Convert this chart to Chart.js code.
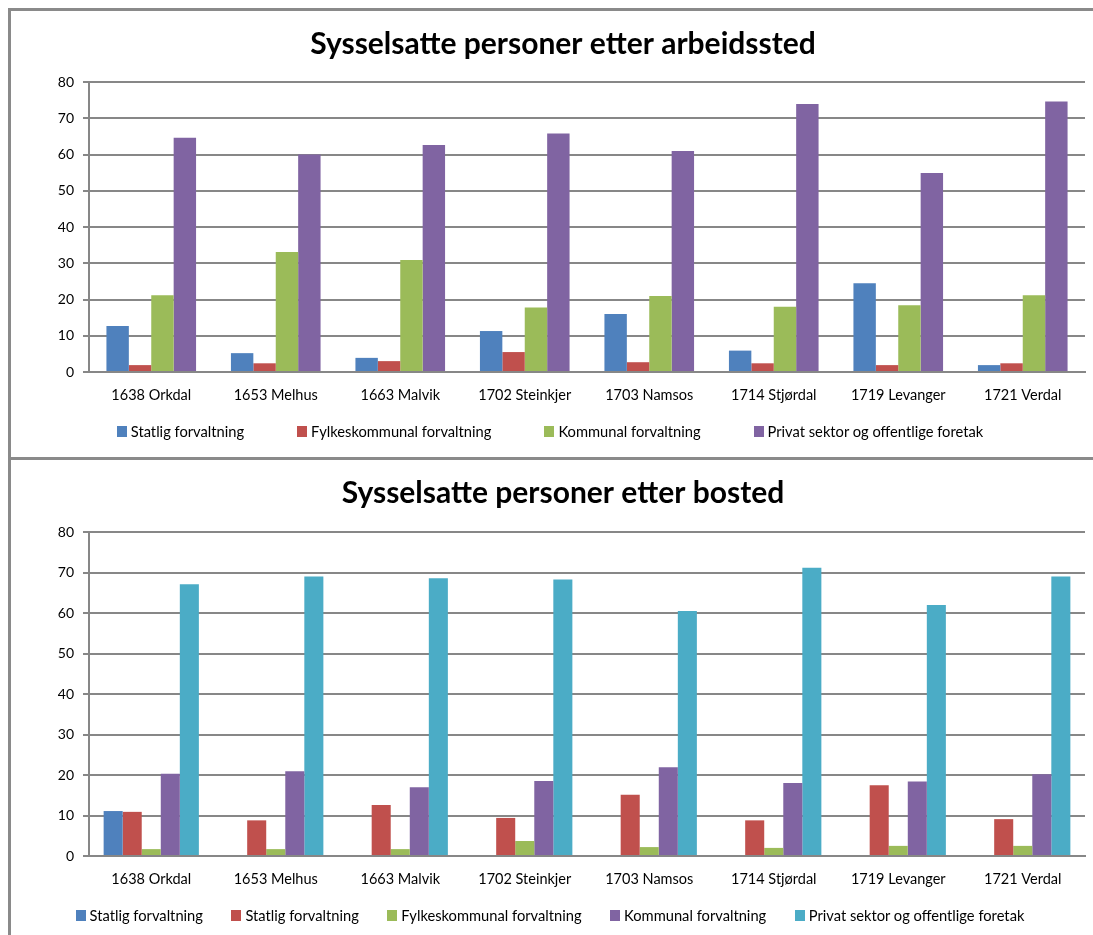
<!DOCTYPE html>
<html>
<head>
<meta charset="utf-8">
<script src="https://cdn.jsdelivr.net/npm/chart.js@4"></script>
<style>
  html, body { margin: 0; padding: 0; background: #fff; overflow: hidden; }
  body { width: 1093px; height: 935px; position: relative; font-family: Lato, "Open Sans", sans-serif; }
  #frame {
    position: absolute; left: 8px; top: 8px; width: 1200px; height: 1000px;
    border-left: 3px solid #8a8a8a; border-top: 3px solid #8a8a8a;
  }
  #sep { position: absolute; left: 8px; top: 457px; width: 1200px; height: 3px; background: #8a8a8a; }
  .box { position: absolute; left: 11px; width: 1082px; }
  #top { top: 11px; height: 446px; }
  #bottom { top: 460px; height: 475px; }
  .legend {
    position: absolute; left: 0; width: 1100px; height: 20px;
    display: flex; justify-content: center; align-items: center;
    font-size: 14.7px; color: #000; white-space: nowrap;
  }
  .legend span { display: flex; align-items: center; }
  .legend i { display: inline-block; width: 10px; height: 11px; margin-right: 4px; }
  #legTop { top: 421px; gap: 53px; }
  #legBottom { top: 905px; gap: 28.5px; }
</style>
</head>
<body>
<div id="frame"></div>
<div id="sep"></div>
<div class="box" id="top"><canvas id="arbeidssted"></canvas></div>
<div class="box" id="bottom"><canvas id="bosted"></canvas></div>
<div class="legend" id="legTop"></div>
<div class="legend" id="legBottom"></div>
<script>
const kommuner = ['1638 Orkdal', '1653 Melhus', '1663 Malvik', '1702 Steinkjer',
  '1703 Namsos', '1714 Stjørdal', '1719 Levanger', '1721 Verdal'];
const yTicks = [0, 10, 20, 30, 40, 50, 60, 70, 80];

// Sysselsatte etter arbeidssted (prosent)
const statligArb = [12.7, 5.2, 3.9, 11.3, 16.0, 5.9, 24.5, 1.9];
const fylkeArb = [1.9, 2.4, 3.0, 5.5, 2.7, 2.4, 1.9, 2.4];
const kommunalArb = [21.2, 33.1, 30.9, 17.8, 21.0, 18.0, 18.4, 21.2];
const privatArb = [64.6, 60.0, 62.6, 65.8, 61.0, 73.9, 54.9, 74.6];

// Sysselsatte etter bosted (prosent)
const statligBo = [11.1, 0, 0, 0, 0, 0, 0, 0];
const statligBo2 = [10.9, 8.8, 12.6, 9.4, 15.1, 8.8, 17.5, 9.1];
const fylkeBo = [1.7, 1.7, 1.7, 3.7, 2.2, 2.0, 2.5, 2.5];
const kommunalBo = [20.3, 20.9, 17.0, 18.5, 21.9, 18.0, 18.4, 20.2];
const privatBo = [67.1, 69.0, 68.6, 68.3, 60.5, 71.2, 62.0, 69.0];

const BLUE = '#4F81BD', RED = '#C0504D', GREEN = '#9BBB59', PURPLE = '#8064A2', CYAN = '#4BACC6';
const GRID = '#878787';

Chart.defaults.font.family = 'Lato, "Open Sans", sans-serif';
Chart.defaults.color = '#000';
Chart.defaults.animation = false;

const bar = (label, data, color, catPct) => ({
  label: label,
  data: data,
  backgroundColor: color,
  borderWidth: 0,
  barPercentage: 1,
  categoryPercentage: catPct
});

const makeOptions = (title, titlePad, bottomPad) => ({
  responsive: true,
  maintainAspectRatio: false,
  // left padding only moves the title centre; plot still starts at 78px
  layout: { padding: { left: 30, right: 8, top: 0, bottom: bottomPad } },
  scales: {
    x: {
      afterFit: axis => { axis.height = 40; },
      grid: { display: false, drawTicks: false },
      border: { display: true, color: GRID, width: 2 },
      ticks: { font: { size: 14.5 }, padding: 15, maxRotation: 0, autoSkip: false }
    },
    y: {
      min: 0,
      max: 80,
      afterBuildTicks: axis => { axis.ticks = yTicks.map(v => ({ value: v })); },
      afterFit: axis => { axis.width = 48; },
      grid: { color: GRID, lineWidth: 2, drawTicks: true, tickLength: 6 },
      border: { display: true, color: GRID, width: 2 },
      ticks: { font: { size: 14 }, padding: 9 }
    }
  },
  plugins: {
    title: {
      display: true,
      text: title,
      font: { size: 30, weight: 'bold' },
      padding: titlePad
    },
    legend: { display: false },
    tooltip: { enabled: false }
  }
});

// legend as html, so the item gap can differ from its height
const htmlLegend = (chart, id) => {
  const el = document.getElementById(id);
  chart.data.datasets.forEach(ds => {
    const item = document.createElement('span');
    const key = document.createElement('i');
    key.style.background = ds.backgroundColor;
    item.appendChild(key);
    item.appendChild(document.createTextNode(ds.label));
    el.appendChild(item);
  });
};

const arbChart = new Chart(document.getElementById('arbeidssted'), {
  type: 'bar',
  data: {
    labels: kommuner,
    datasets: [
      bar('Statlig forvaltning', statligArb, BLUE, 0.72),
      bar('Fylkeskommunal forvaltning', fylkeArb, RED, 0.72),
      bar('Kommunal forvaltning', kommunalArb, GREEN, 0.72),
      bar('Privat sektor og offentlige foretak', privatArb, PURPLE, 0.72)
    ]
  },
  options: makeOptions('Sysselsatte personer etter arbeidssted', { top: 15, bottom: 20 }, 45)
});

const boChart = new Chart(document.getElementById('bosted'), {
  type: 'bar',
  data: {
    labels: kommuner,
    datasets: [
      bar('Statlig forvaltning', statligBo, BLUE, 0.765),
      bar('Statlig forvaltning', statligBo2, RED, 0.765),
      bar('Fylkeskommunal forvaltning', fylkeBo, GREEN, 0.765),
      bar('Kommunal forvaltning', kommunalBo, PURPLE, 0.765),
      bar('Privat sektor og offentlige foretak', privatBo, CYAN, 0.765)
    ]
  },
  options: makeOptions('Sysselsatte personer etter bosted', { top: 15, bottom: 21 }, 39)
});

htmlLegend(arbChart, 'legTop');
htmlLegend(boChart, 'legBottom');
</script>
</body>
</html>
